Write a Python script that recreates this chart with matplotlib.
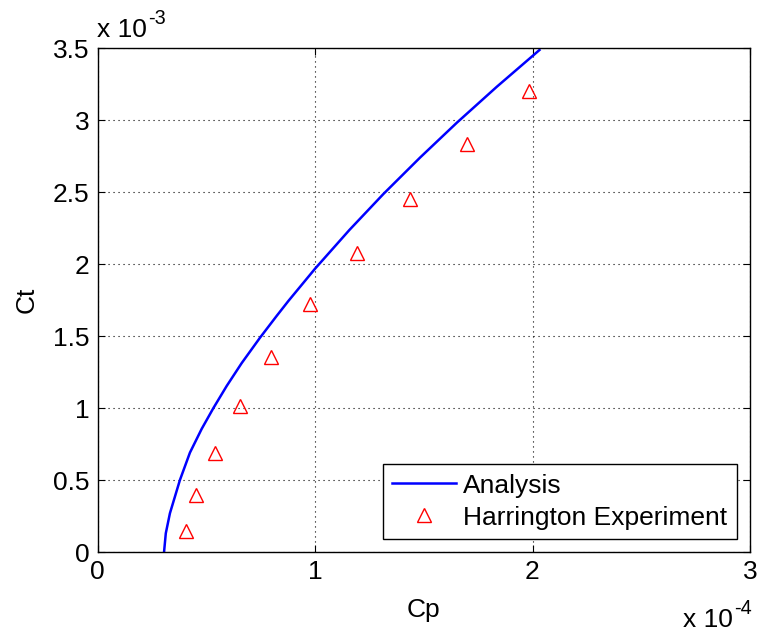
import matplotlib as mpl
mpl.use("agg")
import matplotlib.pyplot as plt
import numpy as np

plt.rcParams["font.family"] = ["Liberation Sans", "DejaVu Sans"]

# analysis curve, Cp in units of 1e-4 and Ct in units of 1e-3
cp_analysis = [0.306, 0.314, 0.333, 0.379, 0.425, 0.479, 0.533, 0.594, 0.663,
               0.747, 0.824, 0.878, 1.0, 1.158, 1.315, 1.483, 1.652, 1.836,
               2.032]
ct_analysis = [0.0, 0.13, 0.269, 0.5, 0.69, 0.855, 1.0, 1.153, 1.312,
               1.488, 1.64, 1.744, 1.967, 2.236, 2.487, 2.739, 2.981, 3.231,
               3.486]

# Harrington experiment points
cp_exp = [0.405, 0.454, 0.538, 0.654, 0.798, 0.979, 1.194, 1.436, 1.697, 1.982]
ct_exp = [0.148, 0.398, 0.69, 1.014, 1.356, 1.722, 2.074, 2.449, 2.833, 3.203]

FS = 19

fig = plt.figure(figsize=(7.57, 6.34), dpi=100)
ax = fig.add_axes([97.5 / 757, 82 / 634, 652.5 / 757, 504 / 634])

ax.plot(cp_analysis, ct_analysis, color="#0000ff", lw=1.8, label="Analysis")
ax.plot(cp_exp, ct_exp, linestyle="none", marker="^", markersize=10,
        markerfacecolor="none", markeredgecolor="#ff0000", markeredgewidth=1,
        label="Harrington Experiment")

ax.set_xlim(0, 3)
ax.set_ylim(0, 3.5)
ax.set_xticks([0, 1, 2, 3])
ax.set_yticks(np.arange(0, 3.51, 0.5))
ax.set_yticklabels(["0", "0.5", "1", "1.5", "2", "2.5", "3", "3.5"])
ax.tick_params(direction="in", labelsize=FS, top=True, right=True, length=5,
               pad=6)
ax.grid(True, color="black", linestyle=(0, (1, 3.5)), linewidth=0.8)
for s in ax.spines.values():
    s.set_linewidth(1)

ax.set_xlabel("Cp", fontsize=FS, labelpad=10)
ax.set_ylabel("Ct", fontsize=FS, labelpad=10)


def multiplier(x, y, exp, ha):
    # "x 10" with a small raised exponent next to it
    base = fig.text(x, y, "x 10", fontsize=FS, ha="left", va="baseline")
    sup = fig.text(0, 0, exp, fontsize=FS * 0.75, ha="left", va="baseline")
    fig.canvas.draw()
    r = fig.canvas.get_renderer()
    bb = base.get_window_extent(r)
    sb = sup.get_window_extent(r)
    W, H = fig.bbox.width, fig.bbox.height
    total = bb.width + 1 + sb.width
    x0 = x * W if ha == "left" else x * W - total
    base.set_position((x0 / W, y))
    sup.set_position(((x0 + bb.width + 1) / W, y + 0.55 * bb.height / H))


multiplier(97 / 757, (634 - 37) / 634, "-3", "left")
multiplier(752 / 757, (634 - 627) / 634, "-4", "right")

leg = ax.legend(loc="lower right", fontsize=FS, fancybox=False, framealpha=1,
                edgecolor="black", borderaxespad=0.5, handlelength=2.4,
                handletextpad=0.3, labelspacing=0.3, borderpad=0.35)
leg.get_frame().set_linewidth(1)

fig.savefig("out.png", dpi=100)
